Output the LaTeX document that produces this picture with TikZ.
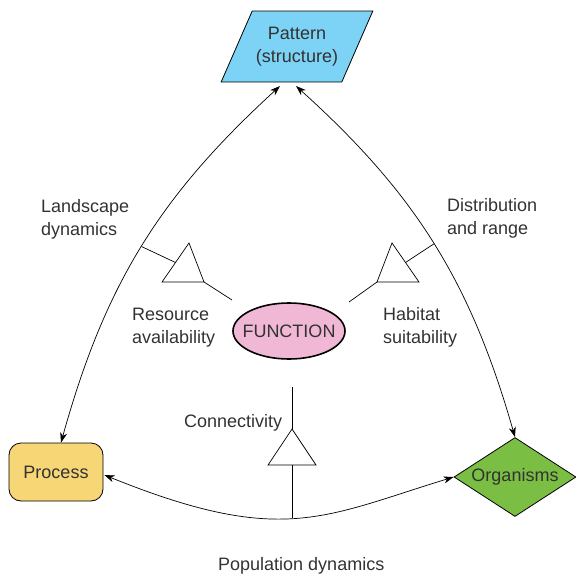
\documentclass[tikz,border=0pt]{standalone}
\usepackage{fontspec}
\setmainfont{Liberation Sans}
\usetikzlibrary{shapes,arrows.meta}
\definecolor{patblue}{RGB}{125,211,245}
\definecolor{procyellow}{RGB}{247,214,117}
\definecolor{orggreen}{RGB}{122,190,68}
\definecolor{funpink}{RGB}{240,184,212}
\definecolor{txtgray}{RGB}{50,50,50}
\tikzset{x=1pt,y=1pt,>={Stealth[length=10pt,width=7pt,inset=3pt]},
  every node/.style={font=\fontsize{18}{23}\selectfont,text=txtgray},
  lbl/.style={align=left,anchor=west,inner sep=0pt},
  box/.style={draw,line width=0.8pt,inner sep=0pt,align=center},
  link/.style={line width=0.7pt}}

\begin{document}
\begin{tikzpicture}
    \useasboundingbox (0,0) rectangle (576,-576);
    \node[box,trapezium,trapezium left angle=54,trapezium right angle=126,trapezium stretches=true,
      minimum width=152pt,minimum height=71pt,fill=patblue] (pattern) at (297,-46.5) {Pattern\\(structure)};
    \node[box,rounded corners=12pt,minimum width=94pt,minimum height=58pt,fill=procyellow] (process) at (56,-472) {Process};
    \node[box,diamond,aspect=1.54,minimum width=122pt,minimum height=79pt,fill=orggreen] (organisms) at (515,-477) {Organisms};
    \node[box,ellipse,line width=1.6pt,inner xsep=-7pt,minimum width=112pt,minimum height=56pt,fill=funpink] (function) at (289,-331) {FUNCTION};
    \coordinate (pl) at (280,-86);
    \coordinate (pr) at (296,-86);
    \coordinate (prn) at ([xshift=5pt]process.north);
    \coordinate (pre) at ([xshift=1pt,yshift=-3pt]process.east);
    \draw[<->,link] (pl) to[bend right=16] coordinate[pos=.5] (ld) (prn);
    \draw[<->,link] (pr) to[bend left=16] coordinate[pos=.5] (dr) (organisms.north);
    \draw[<->,link] (pre) to[out=-22,in=197,out looseness=1.4,in looseness=1] coordinate[pos=.5] (pd) (organisms.west);
    \coordinate (ra) at (189,-243);
    \coordinate (hs) at (392,-243);
    \coordinate (cn) at (292,-429);
    \draw[link] (ra) -- (162,-282) -- (204,-282) -- cycle;
    \draw[link] (hs) -- (377,-282) -- (419,-282) -- cycle;
    \draw[link] (cn) -- (268,-465) -- (316,-465) -- cycle;
    \draw[link] (ld) -- (175.5,-262.5);
    \draw[link] (204,-282) -- (232,-300);
    \draw[link] (dr) -- (405.5,-262.5);
    \draw[link] (377,-282) -- (349,-302);
    \draw[link] (292,-387) -- (cn);
    \draw[link] (292,-465) -- (cn |- pd);
    \node[lbl] (landscape) at (41,-219) {Landscape\\dynamics};
    \node[lbl] (distribution) at (447,-218.5) {Distribution\\and range};
    \node[lbl] (resource) at (132,-327.5) {Resource\\availability};
    \node[lbl] (habitat) at (383,-327.5) {Habitat\\suitability};
    \node[lbl] (connectivity) at (184,-423) {Connectivity};
    \node[lbl] (population) at (218,-566) {Population dynamics};
\end{tikzpicture}
\end{document}
